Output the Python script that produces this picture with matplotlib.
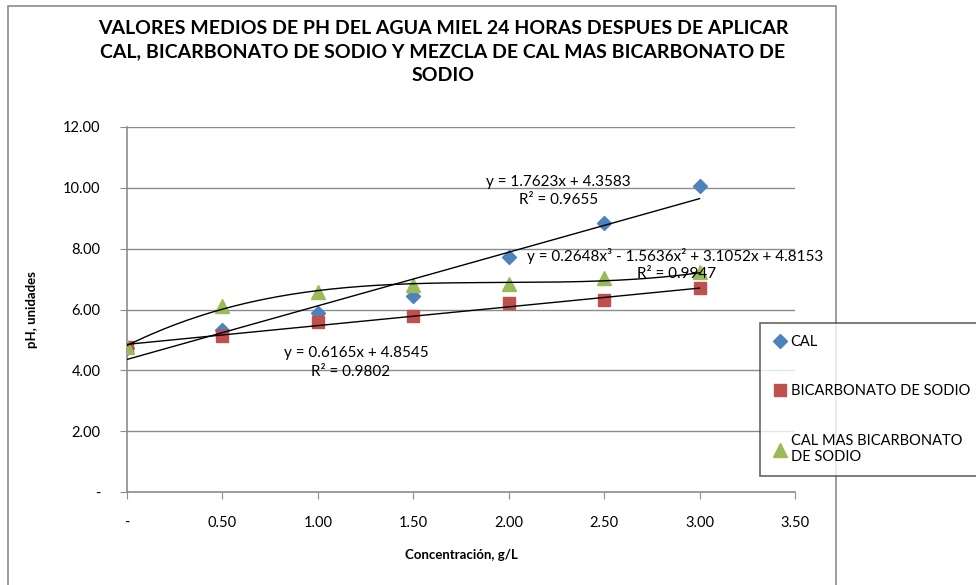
import numpy as np
import matplotlib
matplotlib.use("Agg")
import matplotlib.pyplot as plt
from matplotlib.patches import Rectangle

plt.rcParams['font.family'] = ['Lato', 'DejaVu Sans']

# datos
conc = [0.0, 0.5, 1.0, 1.5, 2.0, 2.5, 3.0]
ph_cal = [4.75, 5.33, 5.87, 6.43, 7.73, 8.83, 10.07]
ph_bicarb = [4.77, 5.12, 5.58, 5.78, 6.20, 6.30, 6.71]
ph_mezcla = [4.77, 6.12, 6.58, 6.82, 6.83, 7.04, 7.24]

# coeficientes de las lineas de tendencia (mayor grado primero)
coef_cal = [1.7623, 4.3583]
coef_bicarb = [0.6165, 4.8545]
coef_mezcla = [0.2648, -1.5636, 3.1052, 4.8153]

etiquetas = ['CAL', 'BICARBONATO DE SODIO', 'CAL MAS BICARBONATO\nDE SODIO']
colores = ['#4F81BD', '#C0504D', '#9BBB59']
marcadores = ['D', 's', '^']
tam = [7, 9, 10]

fig = plt.figure(figsize=(9.76, 5.85), dpi=100)
ax = fig.add_axes([127 / 976, 1 - 492 / 585, (795 - 127) / 976, (492 - 127) / 585])

# marco del grafico
fig.patches.append(Rectangle((8 / 976, -0.05), (836 - 8) / 976, 1.05 - 6 / 585,
                             transform=fig.transFigure, fill=False,
                             edgecolor='#8c8c8c', linewidth=1.2, zorder=0))

for y, lab, c, m, s in zip([ph_cal, ph_bicarb, ph_mezcla], etiquetas, colores, marcadores, tam):
    ax.plot(conc, y, linestyle='none', marker=m, markersize=s, color=c,
            markeredgecolor=c, label=lab, zorder=3)

xs = np.linspace(0, 3, 200)
for coef in [coef_cal, coef_bicarb, coef_mezcla]:
    ax.plot(xs, np.polyval(coef, xs), color='black', linewidth=1.0, zorder=4)

fs = 11
ax.text(2.26, 10.18, 'y = 1.7623x + 4.3583', ha='center', va='center', fontsize=fs)
ax.text(2.26, 9.6, 'R² = 0.9655', ha='center', va='center', fontsize=fs)
ax.text(2.87, 7.77, 'y = 0.2648x³ - 1.5636x² + 3.1052x + 4.8153', ha='center', va='center', fontsize=fs)
ax.text(2.88, 7.17, 'R² = 0.9947', ha='center', va='center', fontsize=fs)
ax.text(1.20, 4.57, 'y = 0.6165x + 4.8545', ha='center', va='center', fontsize=fs)
ax.text(1.17, 3.95, 'R² = 0.9802', ha='center', va='center', fontsize=fs)

ax.set_xlim(0, 3.5)
ax.set_ylim(0, 12)
xt = np.arange(0, 3.51, 0.5)
yt = np.arange(0, 12.1, 2)
ax.set_xticks(xt)
ax.set_xticklabels(['-'] + ['%.2f' % v for v in xt[1:]])
ax.set_yticks(yt)
ax.set_yticklabels(['-'] + ['%.2f' % v for v in yt[1:]])
ax.tick_params(axis='both', direction='out', length=5, color='#8c8c8c', labelsize=10.5)
ax.tick_params(axis='x', pad=12)
ax.tick_params(axis='y', pad=14)
ax.grid(axis='y', color='#8c8c8c', linewidth=1)
ax.set_axisbelow(True)
for sp in ['top', 'right']:
    ax.spines[sp].set_visible(False)
for sp in ['left', 'bottom']:
    ax.spines[sp].set_color('#8c8c8c')
    ax.spines[sp].set_linewidth(1.2)

ax.set_xlabel('Concentración, g/L', fontsize=9.5, fontweight='bold', labelpad=14)
ax.set_ylabel('pH, unidades', fontsize=9.5, fontweight='bold', labelpad=18)

fig.text(443 / 976, 1 - 52 / 585,
         'VALORES MEDIOS DE PH DEL AGUA MIEL 24 HORAS DESPUES DE APLICAR\n'
         'CAL, BICARBONATO DE SODIO Y MEZCLA DE CAL MAS BICARBONATO DE\nSODIO',
         ha='center', va='center', fontsize=14, fontweight='bold', linespacing=1.45)

leg = fig.legend(loc='upper left', bbox_to_anchor=(760 / 976, 1 - 323 / 585),
                 frameon=True, fancybox=False, fontsize=10.5, labelspacing=2.45,
                 handletextpad=0.1, handlelength=1.2, borderpad=0.8,
                 borderaxespad=0)
leg.get_frame().set_edgecolor('#404040')
leg.get_frame().set_linewidth(1.2)

fig.savefig('out.png', dpi=100)
